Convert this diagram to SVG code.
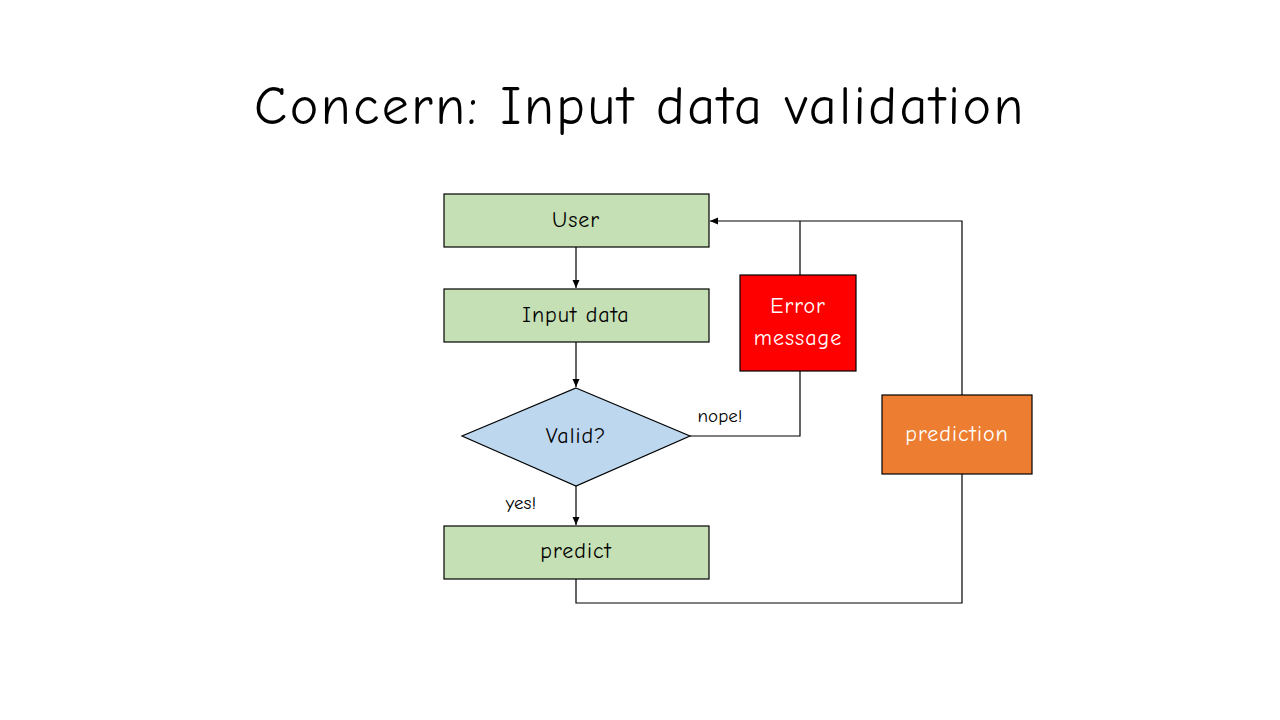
<svg xmlns="http://www.w3.org/2000/svg" width="1280" height="720" viewBox="0 0 1280 720">
<style>
text{font-family:"Comic Neue","Noto Sans","Liberation Sans",sans-serif;text-anchor:middle;dominant-baseline:central}
.box{stroke:#000;stroke-width:1.2}
.c{fill:none;stroke:#000;stroke-width:1.2}
.t{font-size:22px;fill:#000;letter-spacing:1px}
.w{font-size:22px;fill:#fff;letter-spacing:1px}
.l{font-size:19px;fill:#000}
</style>
<defs><marker id="a" markerWidth="10" markerHeight="10" refX="9" refY="5" orient="auto" markerUnits="userSpaceOnUse"><path d="M1,1.5 L9,5 L1,8.5 Z" fill="#000"/></marker></defs>
<rect width="1280" height="720" fill="#fff"/>
<text x="640" y="106" style="font-size:54px;letter-spacing:2.5px" fill="#000">Concern: Input data validation</text>
<g id="connectors">
<path class="c" d="M576,247 V288" marker-end="url(#a)"/>
<path class="c" d="M576,342 V387" marker-end="url(#a)"/>
<path class="c" d="M576,486 V525" marker-end="url(#a)"/>
<path class="c" d="M690,436 H800 V371"/>
<path class="c" d="M800,275 V221"/>
<path class="c" d="M962,395 V221 H710" marker-end="url(#a)"/>
<path class="c" d="M576,579 V603 H962 V474"/>
<text class="l" x="521" y="503">yes!</text>
<text class="l" x="720" y="416">nope!</text>
</g>
<g id="user"><rect class="box" x="444" y="194" width="265" height="53" fill="#c5e0b4"/><text class="t" x="576" y="220">User</text></g>
<g id="input"><rect class="box" x="444" y="289" width="265" height="53" fill="#c5e0b4"/><text class="t" x="576" y="315">Input data</text></g>
<g id="valid"><path class="box" d="M576,388 L690,436 L576,486 L462,436 Z" fill="#bdd7ee"/><text class="t" x="576" y="436">Valid?</text></g>
<g id="predict"><rect class="box" x="444" y="526" width="265" height="53" fill="#c5e0b4"/><text class="t" x="576" y="551">predict</text></g>
<g id="error"><rect class="box" x="740" y="275" width="116" height="96" fill="#ff0000"/><text class="w" x="798" y="306">Error</text><text class="w" x="798" y="338">message</text></g>
<g id="prediction"><rect class="box" x="882" y="395" width="150" height="79" fill="#ed7d31"/><text class="w" x="957" y="434">prediction</text></g>
</svg>
